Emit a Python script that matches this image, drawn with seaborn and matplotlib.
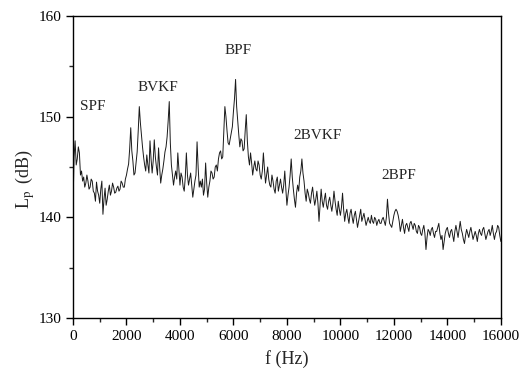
import numpy as np
import pandas as pd
import matplotlib
matplotlib.use("Agg")
import matplotlib.pyplot as plt
import seaborn as sns
from matplotlib.ticker import MultipleLocator

# spectrum, one value every 40 Hz (20 values = 800 Hz per row)
step_hz = 40
levels = [
    141.0, 146.0, 147.6, 145.2, 145.8, 147.0, 146.4, 144.2, 144.6, 143.6, 144.0, 143.0, 143.4, 144.2, 143.6, 142.8, 143.0, 143.8, 143.6, 142.6,
    142.4, 141.6, 143.5, 142.6, 142.2, 141.4, 142.8, 143.6, 140.3, 141.8, 142.9, 141.2, 141.8, 142.6, 143.2, 142.2, 142.6, 143.4, 143.0, 142.4,
    142.5, 142.9, 143.1, 142.6, 142.8, 143.6, 143.4, 143.0, 143.0, 143.8, 144.2, 144.8, 145.3, 146.8, 148.9, 146.6, 145.6, 144.2, 144.4, 145.4,
    146.5, 148.6, 151.0, 149.4, 148.2, 147.0, 146.0, 145.2, 144.6, 146.2, 145.2, 144.4, 147.6, 145.8, 144.4, 145.6, 147.7, 146.0, 145.0, 144.2,
    146.9, 145.0, 143.4, 144.2, 144.8, 145.6, 146.5, 147.0, 148.0, 149.6, 151.5, 147.4, 145.2, 144.2, 143.2, 144.0, 144.6, 143.8, 146.4, 144.8,
    143.2, 144.4, 144.0, 143.0, 142.6, 144.0, 146.4, 144.2, 143.2, 143.8, 144.4, 143.2, 142.0, 142.8, 143.6, 144.2, 147.5, 145.0, 143.0, 143.6,
    143.0, 143.8, 142.2, 142.8, 145.4, 143.4, 142.0, 143.0, 143.6, 144.6, 144.4, 143.8, 144.0, 145.0, 145.2, 144.6, 145.8, 146.4, 146.6, 145.8,
    146.0, 148.4, 151.0, 150.0, 148.6, 147.4, 147.2, 147.8, 148.4, 149.0, 150.5, 151.8, 153.7, 151.0, 149.6, 148.2, 147.0, 147.8, 147.6, 146.6,
    146.8, 148.6, 150.2, 147.6, 146.0, 145.2, 146.4, 145.4, 144.2, 145.0, 145.6, 144.8, 144.6, 145.6, 145.2, 144.2, 143.8, 144.6, 146.4, 144.8,
    143.4, 144.2, 145.0, 143.8, 143.2, 143.0, 144.2, 143.6, 142.8, 142.4, 143.6, 144.0, 142.6, 143.2, 143.8, 143.0, 142.4, 143.2, 144.6, 142.8,
    141.2, 142.2, 143.0, 144.2, 145.8, 144.0, 142.8, 141.8, 141.0, 142.4, 143.2, 142.6, 144.0, 144.6, 145.8, 144.4, 143.6, 142.4, 141.6, 142.8,
    142.4, 141.8, 141.4, 142.4, 143.0, 142.0, 141.2, 141.8, 142.6, 141.4, 139.6, 141.2, 142.8, 141.6, 141.0, 141.8, 142.4, 141.2, 140.8, 141.6,
    142.0, 141.2, 140.6, 141.4, 142.6, 141.6, 140.8, 140.2, 141.6, 140.8, 140.2, 141.0, 142.4, 140.8, 139.6, 140.4, 140.8, 140.0, 139.4, 140.4,
    140.8, 140.0, 139.4, 140.2, 140.6, 139.8, 139.0, 139.6, 140.2, 140.8, 139.6, 140.0, 140.4, 139.8, 139.2, 139.6, 140.0, 139.6, 139.4, 140.2,
    139.6, 139.4, 140.0, 139.8, 139.2, 139.6, 139.8, 139.4, 139.4, 139.8, 140.0, 139.6, 139.2, 140.0, 141.8, 140.4, 139.4, 139.2, 139.0, 139.6,
    140.2, 140.6, 140.8, 140.6, 140.2, 139.6, 138.6, 139.2, 139.8, 139.0, 138.4, 139.2, 139.4, 139.0, 138.6, 139.4, 139.6, 139.2, 138.8, 139.4,
    139.2, 138.6, 138.4, 139.2, 139.0, 138.4, 138.2, 138.8, 139.2, 138.4, 136.8, 138.0, 138.8, 138.6, 138.2, 138.8, 139.0, 138.4, 138.0, 138.6,
    138.6, 139.0, 139.4, 138.4, 137.8, 138.2, 136.8, 137.6, 138.4, 138.8, 139.0, 138.4, 138.0, 138.6, 138.8, 138.2, 137.6, 138.6, 139.2, 138.6,
    138.0, 138.8, 139.6, 138.8, 138.4, 137.8, 137.4, 138.2, 138.8, 138.4, 138.0, 138.6, 139.0, 138.4, 137.8, 138.2, 138.6, 138.2, 137.6, 138.4,
    138.8, 138.4, 138.2, 138.8, 139.0, 138.4, 137.8, 138.2, 138.6, 138.8, 138.2, 138.6, 139.2, 138.4, 137.8, 138.4, 138.6, 139.2, 139.0, 138.2,
    137.6,
]
freqs = np.arange(len(levels)) * step_hz

peak_names = ["SPF", "BVKF", "BPF", "2BVKF", "2BPF"]
peak_x = [730, 3180, 6190, 9150, 12190]
peak_y = [151.0, 152.9, 156.6, 148.1, 144.2]

df = pd.DataFrame({"f": freqs, "Lp": levels})

sns.set_style("ticks")
plt.rcParams["font.family"] = ["Liberation Serif", "DejaVu Serif"]
plt.rcParams["mathtext.fontset"] = "stix"

fig = plt.figure(figsize=(5.3, 3.81), dpi=100)
ax = fig.add_axes([0.1377, 0.1654, 0.8073, 0.7926])

sns.lineplot(data=df, x="f", y="Lp", color="#1a1a1a", linewidth=0.7, ax=ax)

for name, px, py in zip(peak_names, peak_x, peak_y):
    ax.text(px, py, name, fontsize=11, ha="center", va="center")

ax.set_xlim(0, 16000)
ax.set_ylim(130, 160)
ax.set_xticks(range(0, 16001, 2000))
ax.set_yticks([130, 140, 150, 160])
ax.xaxis.set_minor_locator(MultipleLocator(1000))
ax.yaxis.set_minor_locator(MultipleLocator(5))
ax.tick_params(which="major", direction="out", length=5, width=1, labelsize=11, colors="black")
ax.tick_params(which="minor", direction="out", length=3, width=1)
for s in ax.spines.values():
    s.set_visible(True)
    s.set_linewidth(1)
    s.set_color("black")

ax.set_xlabel("f (Hz)", fontsize=13)
ax.set_ylabel(r"L$_{\rm p}$$\,$ (dB)", fontsize=13)
ax.xaxis.set_label_coords(0.5, -0.105)
ax.yaxis.set_label_coords(-0.085, 0.46)

fig.savefig("out.png", dpi=100)
